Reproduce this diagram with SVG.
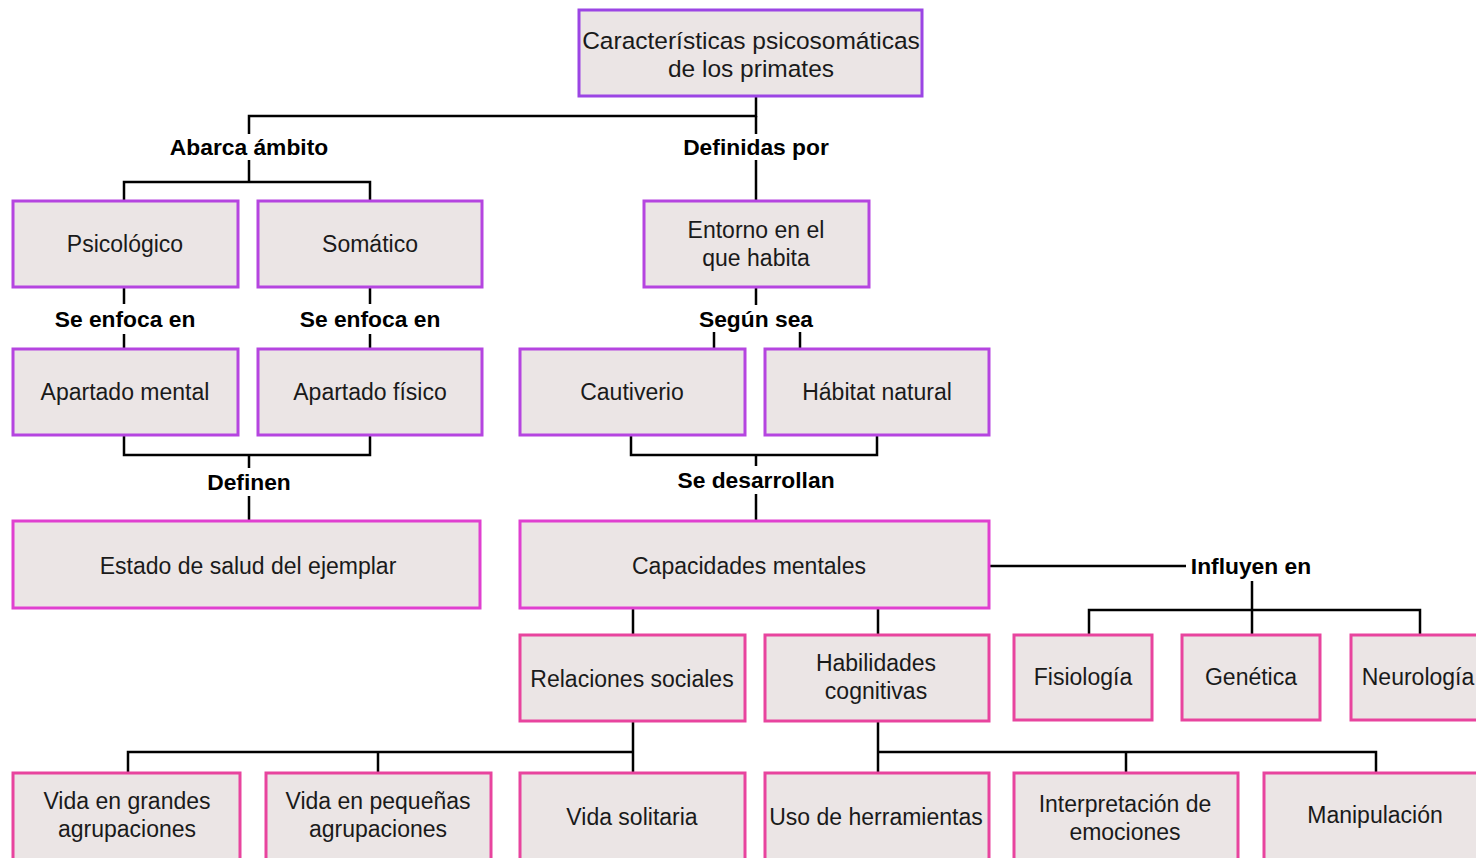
<svg xmlns="http://www.w3.org/2000/svg" width="1476" height="858" viewBox="0 0 1476 858">
<style>
.n{fill:#ebe5e5;stroke-width:3}
.p{stroke:#9b45e4}
.v{stroke:#b545e0}
.m{stroke:#e040d0}
.k{stroke:#e8449e}
.t{font-family:"Liberation Sans",Arial,sans-serif;font-size:23px;fill:#1a1a1a;text-anchor:middle;dominant-baseline:central}
.h{font-size:24.5px}
.l{font-family:"Liberation Sans",Arial,sans-serif;font-size:22.8px;font-weight:bold;fill:#000;text-anchor:middle;dominant-baseline:central}
.c{fill:none;stroke:#000;stroke-width:2.5}
</style>
<rect width="1476" height="858" fill="#fff"/>
<g id="connectors">
<path class="c" d="M756 96V116H249V134M249 160V182H124V201M249 182H370V201"/>
<path class="c" d="M756 116V134M756 160V201"/>
<path class="c" d="M124 287V304M124 334V349M370 287V304M370 334V349"/>
<path class="c" d="M756 287V305M714 332V349M800 332V349"/>
<path class="c" d="M124 435V455H370V435M249 455V468M249 496V521"/>
<path class="c" d="M631 435V455H877V435M756 455V466M756 494V521"/>
<path class="c" d="M989 566H1186M1252 581V635M1089 635V610H1420V635"/>
<path class="c" d="M633 608V635M878 608V635"/>
<path class="c" d="M633 721V773M128 773V752H633M378 752V773"/>
<path class="c" d="M878 721V773M878 752H1376V773M1126 752V773"/>
</g>
<g id="labels">
<text class="l" x="249" y="147">Abarca ámbito</text>
<text class="l" x="756" y="147">Definidas por</text>
<text class="l" x="125" y="319">Se enfoca en</text>
<text class="l" x="370" y="319">Se enfoca en</text>
<text class="l" x="756" y="319">Según sea</text>
<text class="l" x="249" y="482">Definen</text>
<text class="l" x="756" y="480">Se desarrollan</text>
<text class="l" x="1251" y="566">Influyen en</text>
</g>
<g id="n-root"><rect class="n p" x="579" y="10" width="343" height="86"/><text class="t h" x="751" y="40">Características psicosomáticas</text><text class="t h" x="751" y="68">de los primates</text></g>
<g id="n-psico"><rect class="n v" x="13" y="201" width="225" height="86"/><text class="t" x="125" y="244">Psicológico</text></g>
<g id="n-soma"><rect class="n v" x="258" y="201" width="224" height="86"/><text class="t" x="370" y="244">Somático</text></g>
<g id="n-entorno"><rect class="n v" x="644" y="201" width="225" height="86"/><text class="t" x="756" y="230">Entorno en el</text><text class="t" x="756" y="258">que habita</text></g>
<g id="n-mental"><rect class="n v" x="13" y="349" width="225" height="86"/><text class="t" x="125" y="392">Apartado mental</text></g>
<g id="n-fisico"><rect class="n v" x="258" y="349" width="224" height="86"/><text class="t" x="370" y="392">Apartado físico</text></g>
<g id="n-caut"><rect class="n v" x="520" y="349" width="225" height="86"/><text class="t" x="632" y="392">Cautiverio</text></g>
<g id="n-habitat"><rect class="n v" x="765" y="349" width="224" height="86"/><text class="t" x="877" y="392">Hábitat natural</text></g>
<g id="n-estado"><rect class="n m" x="13" y="521" width="467" height="87"/><text class="t" x="248" y="566">Estado de salud del ejemplar</text></g>
<g id="n-capac"><rect class="n m" x="520" y="521" width="469" height="87"/><text class="t" x="749" y="566">Capacidades mentales</text></g>
<g id="n-rel"><rect class="n k" x="520" y="635" width="225" height="86"/><text class="t" x="632" y="679">Relaciones sociales</text></g>
<g id="n-hab"><rect class="n k" x="765" y="635" width="224" height="86"/><text class="t" x="876" y="663">Habilidades</text><text class="t" x="876" y="691">cognitivas</text></g>
<g id="n-fisio"><rect class="n k" x="1014" y="635" width="138" height="85"/><text class="t" x="1083" y="677">Fisiología</text></g>
<g id="n-gen"><rect class="n k" x="1182" y="635" width="138" height="85"/><text class="t" x="1251" y="677">Genética</text></g>
<g id="n-neuro"><rect class="n k" x="1351" y="635" width="140" height="85"/><text class="t" x="1418" y="677">Neurología</text></g>
<g id="n-grandes"><rect class="n k" x="13" y="773" width="227" height="90"/><text class="t" x="127" y="801">Vida en grandes</text><text class="t" x="127" y="829">agrupaciones</text></g>
<g id="n-peq"><rect class="n k" x="266" y="773" width="225" height="90"/><text class="t" x="378" y="801">Vida en pequeñas</text><text class="t" x="378" y="829">agrupaciones</text></g>
<g id="n-sol"><rect class="n k" x="520" y="773" width="225" height="90"/><text class="t" x="632" y="817">Vida solitaria</text></g>
<g id="n-uso"><rect class="n k" x="765" y="773" width="224" height="90"/><text class="t" x="876" y="817">Uso de herramientas</text></g>
<g id="n-interp"><rect class="n k" x="1014" y="773" width="224" height="90"/><text class="t" x="1125" y="804">Interpretación de</text><text class="t" x="1125" y="832">emociones</text></g>
<g id="n-manip"><rect class="n k" x="1264" y="773" width="230" height="90"/><text class="t" x="1375" y="815">Manipulación</text></g>
</svg>
